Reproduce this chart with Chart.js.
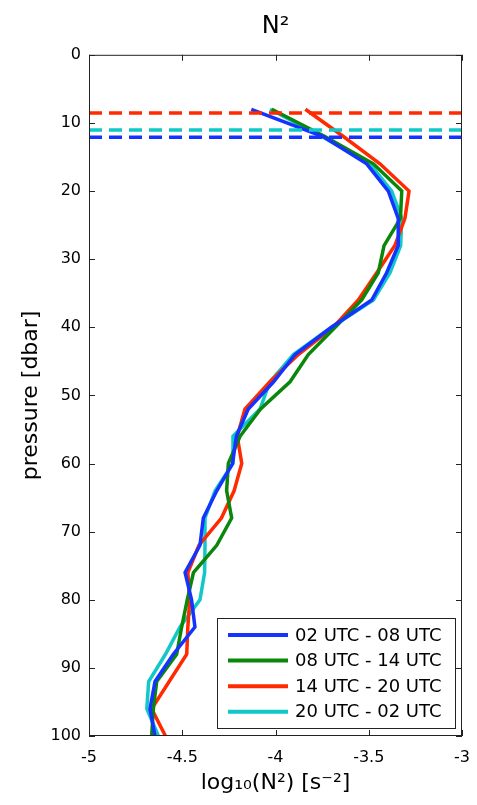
<!DOCTYPE html>
<html>
<head>
<meta charset="utf-8">
<script src="https://cdn.jsdelivr.net/npm/chart.js@4/dist/chart.umd.min.js"></script>
<style>
  html, body { margin: 0; padding: 0; background: #fff; }
  #wrap { width: 477px; height: 805px; }
</style>
</head>
<body>
<div id="wrap"><canvas id="c" width="477" height="805"></canvas></div>
<script>
// ---- data ----
const pressure = [8,12,16,20,24,28,32,36,40,44,48,52,56,60,64,68,72,76,80,84,88,92,96,100];
const seriesLabels = ['02 UTC - 08 UTC','08 UTC - 14 UTC','14 UTC - 20 UTC','20 UTC - 02 UTC'];
const n2_02_08 = [-4.13,-3.745,-3.511,-3.395,-3.342,-3.342,-3.404,-3.484,-3.70,-3.895,-4.01,-4.146,-4.21,-4.23,-4.315,-4.387,-4.405,-4.485,-4.45,-4.432,-4.548,-4.646,-4.673,-4.646];
const n2_08_14 = [-4.02,-3.735,-3.475,-3.323,-3.33,-3.418,-3.449,-3.538,-3.68,-3.824,-3.922,-4.08,-4.19,-4.253,-4.262,-4.235,-4.315,-4.44,-4.473,-4.503,-4.53,-4.637,-4.655,-4.664];
const n2_14_20 = [-3.84,-3.636,-3.44,-3.284,-3.306,-3.36,-3.457,-3.556,-3.69,-3.878,-4.03,-4.164,-4.205,-4.181,-4.222,-4.29,-4.41,-4.47,-4.46,-4.47,-4.476,-4.57,-4.664,-4.59];
const n2_20_02 = [-4.03,-3.752,-3.493,-3.377,-3.323,-3.329,-3.386,-3.475,-3.70,-3.904,-4.03,-4.083,-4.228,-4.228,-4.324,-4.378,-4.378,-4.38,-4.405,-4.512,-4.59,-4.68,-4.69,-4.628];
// mixed-layer depth markers (dbar) for 02-08, 14-20, 20-02 periods
const mldPressure = [12.1, 8.55, 11.05];
const xRange = [-5, -3];
const yRange = [0, 100];
const xTicks = [-5, -4.5, -4, -3.5, -3];
const yTicks = [0,10,20,30,40,50,60,70,80,90,100];

const colors = ['#1433FF', '#0A870A', '#FF2A00', '#10C8C8'];
const profiles = [n2_02_08, n2_08_14, n2_14_20, n2_20_02];
const mldColors = [colors[0], colors[2], colors[3]];

const datasets = [];
mldPressure.forEach((p, i) => {
  datasets.push({
    label: '', data: [{x: xRange[0], y: p}, {x: xRange[1], y: p}],
    borderColor: mldColors[i], borderWidth: 3.5, borderDash: [13, 7],
    showLine: true, pointRadius: 0, isMld: true
  });
});
profiles.forEach((vals, i) => {
  datasets.push({
    label: seriesLabels[i],
    data: vals.map((v, k) => ({x: v, y: pressure[k]})),
    borderColor: colors[i], borderWidth: 3.5, showLine: true,
    pointRadius: 0, tension: 0, isProfile: true
  });
});

const FONT = 'DejaVu Sans';

const boxPlugin = {
  id: 'boxTicks',
  afterDatasetsDraw(chart) {
    const {ctx, chartArea: a, scales: {x, y}} = chart;
    ctx.save();
    ctx.strokeStyle = '#222';
    ctx.lineWidth = 1;
    ctx.strokeRect(a.left + 0.5, a.top + 0.5, a.right - a.left - 1, a.bottom - a.top - 1);
    const L = 6;
    ctx.beginPath();
    xTicks.forEach(t => {
      const px = Math.round(x.getPixelForValue(t)) + 0.5;
      ctx.moveTo(px, a.bottom); ctx.lineTo(px, a.bottom - L);
      ctx.moveTo(px, a.top); ctx.lineTo(px, a.top + L);
    });
    yTicks.forEach(t => {
      const py = Math.round(y.getPixelForValue(t)) + 0.5;
      ctx.moveTo(a.left, py); ctx.lineTo(a.left + L, py);
      ctx.moveTo(a.right, py); ctx.lineTo(a.right - L, py);
    });
    ctx.stroke();
    ctx.restore();
  },
  afterDraw(chart) {
    const {ctx, chartArea: a} = chart;
    const items = chart.data.datasets.filter(d => d.isProfile);
    const w = 238, h = 110;
    const bx = a.right - 7 - w, by = a.bottom - 8 - h;
    ctx.save();
    ctx.fillStyle = '#fff';
    ctx.fillRect(bx, by, w, h);
    ctx.strokeStyle = '#222';
    ctx.lineWidth = 1;
    ctx.strokeRect(Math.round(bx) + 0.5, Math.round(by) + 0.5, w, h);
    ctx.font = '18px "' + FONT + '"';
    ctx.textBaseline = 'middle';
    ctx.textAlign = 'left';
    items.forEach((d, i) => {
      const cy = by + 17 + i * 25.6;
      ctx.strokeStyle = d.borderColor;
      ctx.lineWidth = 4;
      ctx.beginPath();
      ctx.moveTo(bx + 11, cy); ctx.lineTo(bx + 71, cy);
      ctx.stroke();
      ctx.fillStyle = '#000';
      ctx.fillText(d.label, bx + 78, cy + 1);
    });
    ctx.restore();
  }
};

new Chart(document.getElementById('c'), {
  type: 'scatter',
  data: { datasets },
  plugins: [boxPlugin],
  options: {
    responsive: false,
    animation: false,
    devicePixelRatio: 1,
    layout: { padding: { left: 0, right: 15, top: 0, bottom: 0 } },
    plugins: {
      legend: { display: false },
      tooltip: { enabled: false },
      title: {
        display: true, text: 'N²', color: '#000', fullSize: false,
        font: { family: FONT, size: 24, weight: 'normal', lineHeight: 1.2 },
        padding: { top: 12, bottom: 14 }
      }
    },
    scales: {
      x: {
        type: 'linear', min: xRange[0], max: xRange[1],
        grid: { display: false, drawTicks: false },
        border: { display: false },
        afterBuildTicks: s => { s.ticks = xTicks.map(v => ({value: v})); },
        ticks: { color: '#000', padding: 12, maxRotation: 0,
          font: { family: FONT, size: 16 },
          callback: v => String(v) },
        title: { display: true, text: 'log₁₀(N²) [s⁻²]', color: '#000',
          font: { family: FONT, size: 22 }, padding: { top: 0, bottom: 9 } },
        afterFit: s => { s.height = 69; s.paddingLeft = 0; s.paddingRight = 0; }
      },
      y: {
        type: 'linear', min: yRange[0], max: yRange[1], reverse: true,
        grid: { display: false, drawTicks: false },
        border: { display: false },
        afterBuildTicks: s => { s.ticks = yTicks.map(v => ({value: v})); },
        ticks: { color: '#000', padding: 8,
          font: { family: FONT, size: 16 },
          callback: v => String(v) },
        title: { display: true, text: 'pressure [dbar]', color: '#000',
          font: { family: FONT, size: 22 }, padding: { top: 18, bottom: 0 } },
        afterFit: s => { s.width = 89; s.paddingTop = 0; s.paddingBottom = 0; }
      }
    }
  }
});
</script>
</body>
</html>
